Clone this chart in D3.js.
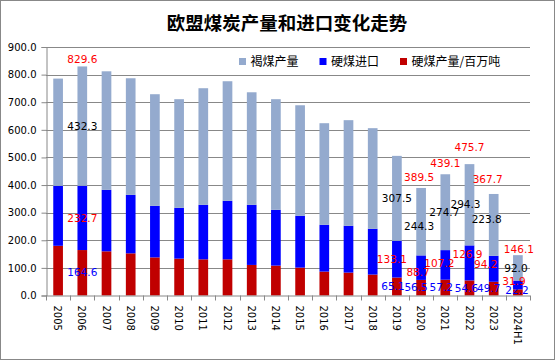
<!DOCTYPE html>
<html>
<head>
<meta charset="utf-8">
<script src="https://cdn.jsdelivr.net/npm/d3@7/dist/d3.min.js"></script>
<style>
  html, body { margin: 0; padding: 0; background: #fff; }
  svg { display: block; }
</style>
</head>
<body>
<script>
// ---- data ----
const years = ['2005','2006','2007','2008','2009','2010','2011','2012','2013','2014','2015','2016','2017','2018','2019','2020','2021','2022','2023','2024H1'];
const hardCoal = [180, 164.6, 160, 152.7, 138, 133.5, 131, 131, 110.7, 108.3, 101, 86.6, 83, 75.8, 65.1, 56.5, 57.2, 54.6, 49.7, 22.2];
const imports  = [217, 232.7, 222.6, 211.8, 186.8, 184.1, 197.4, 211.9, 217.7, 202.1, 187.7, 169.6, 169.6, 166, 133.1, 88.7, 107.2, 126.9, 94.2, 31.9];
const lignite  = [388.6, 432.3, 429.4, 422.3, 404.2, 393.4, 422.3, 433.1, 407.6, 400.6, 400.3, 367.8, 382.4, 364.2, 307.5, 244.3, 274.7, 294.3, 223.8, 92.0];
const segLabelYears = ['2006','2019','2020','2021','2022','2023','2024H1'];
const totalLabelYears = ['2006','2020','2021','2022','2023','2024H1'];
const totalValues = [829.6, 389.5, 439.1, 475.7, 367.7, 146.1];
const yTicks = [0,100,200,300,400,500,600,700,800,900];
const seriesNames = ['褐煤产量','硬煤进口','硬煤产量/百万吨'];
const title = '欧盟煤炭产量和进口变化走势';

// ---- layout ----
const W = 556, H = 362;
const M = {left: 46, right: 530, top: 47, bottom: 295.5};
const colors = {lignite: '#94AACE', imports: '#0000FF', hard: '#C00000'};
// label placement nudges (pixels), keyed by year:series
const nudge = {
  '2019:hard': [-4, 0], '2020:hard': [-5, 0], '2021:hard': [-4, 0], '2022:hard': [-3, 0], '2023:hard': [-5, 0],
  '2019:imports': [-5, 0], '2020:imports': [-3, 5], '2021:imports': [-6, -2], '2022:imports': [-2, -9], '2023:imports': [-8, -4],
  '2024H1:imports': [-4, -4], '2024H1:hard': [-1, -2], '2024H1:lignite': [-2, 0],
  '2020:lignite': [-2, 5], '2021:lignite': [-1, 0], '2022:lignite': [-4, 0], '2023:lignite': [-7, -6]
};
const totalDy = [-7.5, -11, -11, -16.5, -15, -6];
const totalDx = [0, -2, 0, 0, -6, 1];

const svg = d3.select('body').append('svg').attr('width', W).attr('height', H);
svg.append('rect').attr('x',0.5).attr('y',0.5).attr('width',554).attr('height',359)
  .attr('fill','#fff').attr('stroke','#888');

const x = d3.scaleBand().domain(years).range([M.left, M.right]).paddingInner(0.6).paddingOuter(0.3);
const xb = d3.scaleBand().domain(years).range([M.left, M.right]);
const y = d3.scaleLinear().domain([0, 900]).range([M.bottom, M.top]);

// gridlines
svg.append('g').selectAll('line').data(yTicks.filter(d => d > 0)).join('line')
  .attr('x1', M.left).attr('x2', M.right)
  .attr('y1', d => Math.round(y(d)) + 0.5).attr('y2', d => Math.round(y(d)) + 0.5)
  .attr('stroke', '#888').attr('stroke-width', 1);

// stacked data
const rows = years.map((yr, i) => ({year: yr, hard: hardCoal[i], imports: imports[i], lignite: lignite[i]}));
const stack = d3.stack().keys(['hard','imports','lignite'])(rows);
const colorOf = {hard: colors.hard, imports: colors.imports, lignite: colors.lignite};

svg.append('g').selectAll('g').data(stack).join('g')
  .attr('fill', s => colorOf[s.key])
  .selectAll('rect').data(s => s).join('rect')
  .attr('x', d => x(d.data.year))
  .attr('width', x.bandwidth())
  .attr('y', d => y(d[1]))
  .attr('height', d => y(d[0]) - y(d[1]));

// axes
const yAxis = d3.axisLeft(y).tickValues(yTicks).tickFormat(d3.format('.1f')).tickSize(5).tickPadding(5);
const gy = svg.append('g').attr('transform', `translate(${M.left + 0.5},0)`).call(yAxis);
gy.select('.domain').attr('stroke', '#888');
gy.selectAll('.tick line').attr('stroke', '#888');
gy.selectAll('text').attr('font-family', 'DejaVu Sans').attr('font-size', 10).attr('fill', '#000');

const gx = svg.append('g').attr('transform', `translate(0,${M.bottom})`);
gx.append('line').attr('x1', M.left).attr('x2', M.right).attr('y1', 0.5).attr('y2', 0.5).attr('stroke', '#888');
const bounds = years.map(yr => xb(yr)).concat([M.right]);
gx.selectAll('line.t').data(bounds).join('line').attr('class','t')
  .attr('x1', d => Math.round(d) + 0.5).attr('x2', d => Math.round(d) + 0.5)
  .attr('y1', 0).attr('y2', 5).attr('stroke', '#888');
gx.selectAll('text').data(years).join('text')
  .attr('transform', d => `translate(${xb(d) + xb.bandwidth()/2 - 0.5},10) rotate(90)`)
  .attr('dy', '0.35em')
  .attr('font-family', 'DejaVu Sans').attr('font-size', 10).attr('fill', '#000')
  .text(d => d);

// segment labels
const fmt = d3.format('.1f');
const lab = svg.append('g').attr('font-family', 'DejaVu Sans').attr('font-size', 10.5).attr('text-anchor', 'middle');
const labelColor = {hard: '#0000FF', imports: '#FF0000', lignite: '#000000'};
stack.forEach(s => {
  s.forEach(d => {
    if (!segLabelYears.includes(d.data.year)) return;
    const n = nudge[d.data.year + ':' + s.key] || [0, 0];
    lab.append('text')
      .attr('x', x(d.data.year) + x.bandwidth()/2 + n[0])
      .attr('y', y((d[0] + d[1]) / 2) + n[1])
      .attr('dy', '0.35em')
      .attr('fill', labelColor[s.key])
      .text(fmt(d[1] - d[0]));
  });
});
// total labels
totalLabelYears.forEach((yr, i) => {
  lab.append('text')
    .attr('x', x(yr) + x.bandwidth()/2 + totalDx[i])
    .attr('y', y(totalValues[i]) + totalDy[i])
    .attr('dy', '0.35em')
    .attr('fill', '#FF0000')
    .text(fmt(totalValues[i]));
});

// title
svg.append('text').attr('x', 287).attr('y', 24).attr('dy', '0.35em')
  .attr('text-anchor', 'middle')
  .attr('font-family', '"Noto Sans CJK SC"').attr('font-weight', 'bold').attr('font-size', 18.5)
  .attr('fill', '#000').text(title);

// legend
const legX = [239, 319.5, 400];
const legColors = [colors.lignite, colors.imports, colors.hard];
const leg = svg.append('g');
seriesNames.forEach((n, i) => {
  leg.append('rect').attr('x', legX[i]).attr('y', 58).attr('width', 7).attr('height', 7).attr('fill', legColors[i]);
  leg.append('text').attr('x', legX[i] + 11.5).attr('y', 61.5).attr('dy', '0.35em')
    .attr('font-family', '"Noto Sans CJK SC"').attr('font-size', 12).attr('fill', '#000').text(n);
});
</script>
</body>
</html>
